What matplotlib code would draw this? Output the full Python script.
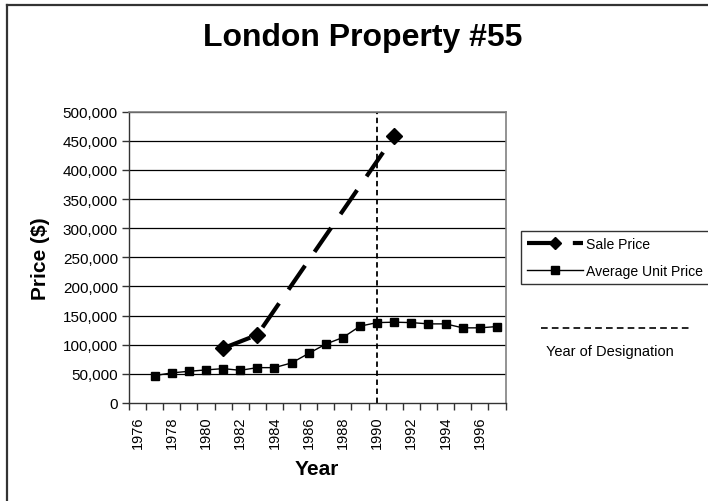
import matplotlib
matplotlib.use("Agg")
import matplotlib.pyplot as plt
from matplotlib.lines import Line2D
from matplotlib.ticker import FixedLocator, FuncFormatter, NullFormatter

plt.rcParams['font.family'] = ['Liberation Sans', 'DejaVu Sans']

# ---- data ----
categories = list(range(1976, 1998))
sale_years = [1981, 1983, 1991]
sale_price = [94000, 117000, 458000]
avg_years = list(range(1977, 1998))
avg_price = [47000, 51700, 54400, 56800, 59000, 56100, 60700, 60700, 68800,
             85100, 101200, 112400, 131900, 138000, 138700, 138000, 135800,
             135800, 129000, 129000, 131200]
designation_year = 1990
y_ticks = list(range(0, 500001, 50000))
x_label_years = list(range(1976, 1997, 2))

W, H = 708, 502
fig = plt.figure(figsize=(W / 100, H / 100), dpi=100)
fig.patch.set_facecolor('white')

# chart-area border (only top/left visible)
fig.add_artist(Line2D([6.5 / W, 6.5 / W], [0, 1 - 5.5 / H], transform=fig.transFigure,
                      color='#333333', lw=1.6))
fig.add_artist(Line2D([6.5 / W, 1], [1 - 5.5 / H, 1 - 5.5 / H], transform=fig.transFigure,
                      color='#333333', lw=1.6))

left, right, top, bottom = 129, 505.5, 112.7, 404
ax = fig.add_axes([left / W, 1 - bottom / H, (right - left) / W, (bottom - top) / H])

idx = {y: i for i, y in enumerate(categories)}
sx = [idx[y] for y in sale_years]
axx = [idx[y] for y in avg_years]

ax.set_xlim(-0.5, len(categories) - 0.5)
ax.set_ylim(0, 500000)

# gridlines
for v in y_ticks[1:]:
    ax.axhline(v, color='black', lw=0.9, zorder=1)

ax.plot(axx, avg_price, color='black', lw=1.0, marker='s', ms=5.2,
        label='Average Unit Price', zorder=3)
ax.plot(sx, sale_price, color='black', lw=3.0, marker='D', ms=8.5,
        dashes=(7, 4), label='Sale Price', zorder=4)
ax.axvline(idx[designation_year], color='black', lw=1.3, dashes=(3, 2), zorder=2)

# axis styling
for s in ['top', 'right']:
    ax.spines[s].set_color('#808080')
    ax.spines[s].set_linewidth(1.2)
for s in ['left', 'bottom']:
    ax.spines[s].set_color('#333333')
    ax.spines[s].set_linewidth(1.0)

ax.yaxis.set_major_locator(FixedLocator(y_ticks))
ax.yaxis.set_major_formatter(FuncFormatter(lambda v, p: f"{int(v):,}"))
ax.tick_params(axis='y', direction='out', length=5, width=1, color='#333333',
               labelsize=11, pad=3)

ax.xaxis.set_major_locator(FixedLocator([i - 0.5 for i in range(len(categories) + 1)]))
ax.xaxis.set_major_formatter(NullFormatter())
ax.xaxis.set_minor_locator(FixedLocator([idx[y] for y in x_label_years]))
ax.xaxis.set_minor_formatter(FuncFormatter(lambda v, p: str(categories[int(round(v))])))
ax.tick_params(axis='x', which='major', direction='out', length=5, width=1, color='#333333')
ax.tick_params(axis='x', which='minor', length=0, labelsize=10.5, labelrotation=90, pad=9)

ax.set_ylabel('Price ($)', fontsize=15, fontweight='bold', labelpad=9)
ax.set_xlabel('Year', fontsize=15, fontweight='bold', labelpad=8)

fig.text(363 / W, 1 - 38 / H, 'London Property #55', fontsize=23, fontweight='bold',
         ha='center', va='center')

h_sale = Line2D([], [], color='black', lw=3.0, marker='D', ms=6, dashes=(7, 4))
h_avg = Line2D([], [], color='black', lw=1.0, marker='s', ms=5.2)
leg = fig.legend([h_sale, h_avg], ['Sale Price', 'Average Unit Price'],
                 loc='upper left', bbox_to_anchor=(521 / W, 1 - 232 / H),
                 bbox_transform=fig.transFigure, fontsize=10.1, frameon=True,
                 fancybox=False, handlelength=4.0, handletextpad=0.2,
                 borderpad=0.45, labelspacing=0.9, borderaxespad=0)
leg.get_frame().set_edgecolor('black')
leg.get_frame().set_linewidth(1.0)

fig.add_artist(Line2D([541 / W, 692 / W], [1 - 329 / H, 1 - 329 / H],
                      transform=fig.transFigure, color='black', lw=1.2, dashes=(4, 2.5)))
fig.text(546 / W, 1 - 352 / H, 'Year of Designation', fontsize=10.5,
         ha='left', va='center')

fig.savefig('out.png', dpi=100)
